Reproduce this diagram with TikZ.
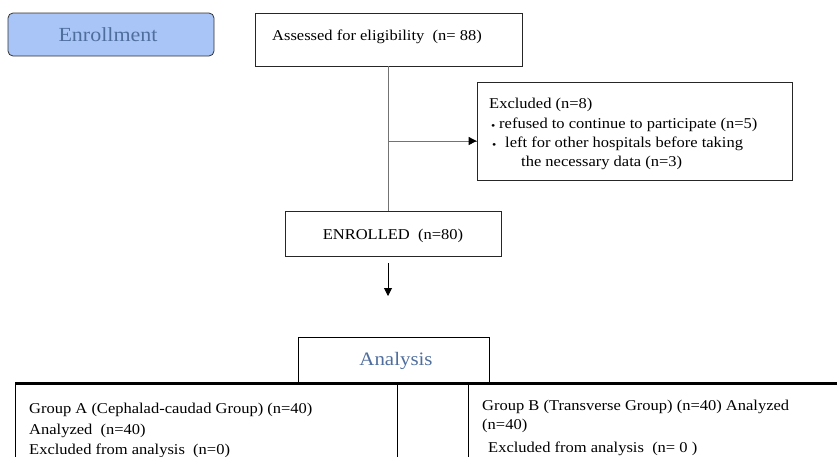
\documentclass[tikz,border=0pt]{standalone}
\usepackage{fontspec}
\setmainfont{Liberation Serif}[FakeStretch=1.1]
\usetikzlibrary{arrows.meta}
\definecolor{enrfill}{HTML}{A9C5F7}
\definecolor{hdtext}{HTML}{4F6E9E}
\begin{document}
\begin{tikzpicture}[x=1pt,y=-1pt,
  box/.style={draw=black!85, line width=0.8pt, inner sep=0pt},
  txt/.style={anchor=west, inner sep=0pt, yshift=-2pt, font=\fontsize{15}{17}\selectfont},
  head/.style={inner sep=0pt, text=hdtext, font=\fontsize{20}{22}\selectfont},
  conn/.style={draw=black!55, line width=1pt},
  arr/.style={-{Triangle[length=8pt,width=8pt]}, draw=black, line width=0.9pt},
  grp/.style={draw=black, line width=1pt}]
\useasboundingbox (0,0) rectangle (837,456);
\clip (0,0) rectangle (837,456);
% Enrollment header
\node[box, draw=black!80, fill=enrfill, rounded corners=5pt, minimum width=206pt, minimum height=43pt] (enroll) at (111,34.5) {};
\node[head] (enrolltxt) at (108,35) {Enrollment};
% Assessed
\node[box, minimum width=267pt, minimum height=53pt] (assess) at (388.5,39.5) {};
\node[txt] (assesstxt) at (272,35) {Assessed for eligibility\ \ (n= 88)};
% Excluded
\node[box, minimum width=315pt, minimum height=98pt] (excl) at (634.5,131) {};
\node[txt] (ex1) at (489,103) {Excluded (n=8)};
\node[txt] (b1) at (491,125) {\fontsize{11}{11}\selectfont •};
\node[txt] (ex2) at (499,123) {refused to continue to participate (n=5)};
\node[txt] (b2) at (492,144) {\fontsize{11}{11}\selectfont •};
\node[txt] (ex3) at (505,142) {left for other hospitals before taking};
\node[txt] (ex4) at (521,161) {the necessary data (n=3)};
% Enrolled
\node[box, minimum width=216pt, minimum height=45pt] (enrolled) at (393,233.5) {};
\node[inner sep=0pt, font=\fontsize{15}{17}\selectfont] (enrolledtxt) at (393,236) {ENROLLED\ \ (n=80)};
% connectors
\coordinate (br) at (388,141);
\draw[conn] (assess.south -| br) -- (enrolled.north -| br);
\draw[conn] (br) -- (excl.west |- br);
\draw[arr] ([xshift=-8pt]excl.west |- br) -- (excl.west |- br);
\coordinate (a1) at (388,263);
\coordinate (a2) at (388,296);
\draw[arr] (a1) -- (a2);
% Analysis
\node[box, draw=black, line width=1pt, minimum width=191pt, minimum height=46pt] (analysis) at (393.5,360) {};
\node[head, font=\fontsize{19}{21}\selectfont] (analysistxt) at (396,361) {Analysis};
% groups
\coordinate (tl) at (15,383);
\coordinate (tr) at (837,383);
\draw[black, line width=3pt] (tl) -- (tr);
\coordinate (v1) at (397,383);
\coordinate (v2) at (468,383);
\draw[grp] (tl) -- (15,460);
\draw[grp] (v1) -- (397,460);
\draw[grp] (v2) -- (468,460);
\node[txt] (ga1) at (29,408) {Group A (Cephalad-caudad Group) (n=40)};
\node[txt] (ga2) at (29,429) {Analyzed\ \ (n=40)};
\node[txt] (ga3) at (29,449) {Excluded from analysis\ \ (n=0)};
\node[txt] (gb1) at (482,405) {Group B (Transverse Group) (n=40) Analyzed};
\node[txt] (gb2) at (482,424) {(n=40)};
\node[txt] (gb3) at (488,447) {Excluded from analysis\ \ (n= 0 )};
\end{tikzpicture}
\end{document}
